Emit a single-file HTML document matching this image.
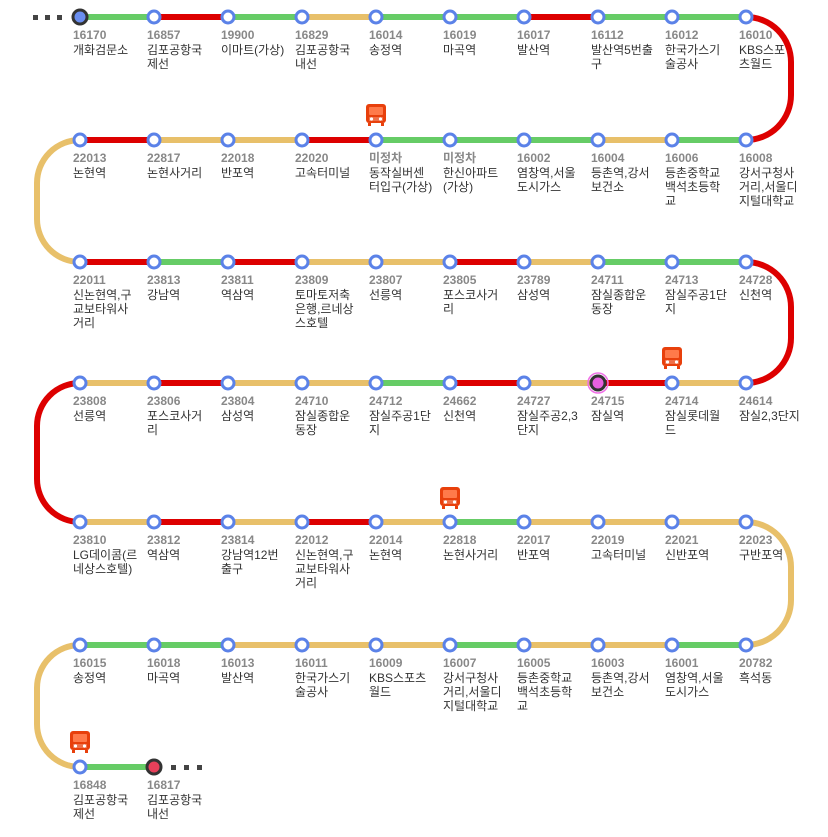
<!DOCTYPE html>
<html><head><meta charset="utf-8">
<style>
html,body{margin:0;padding:0;background:#fff;width:828px;height:837px;overflow:hidden}
svg{display:block}
.n{font:bold 12px "Liberation Sans","Noto Sans CJK KR",sans-serif;fill:#888}
.t{font:12px "Liberation Sans","Noto Sans CJK KR",sans-serif;fill:#333}
</style></head><body>
<svg width="828" height="837" viewBox="0 0 828 837" xmlns="http://www.w3.org/2000/svg">
<defs>
<g id="bus">
<rect x="-10" y="0" width="20" height="19" rx="3" fill="#e8400c"/>
<rect x="-7" y="3" width="14" height="8" rx="1" fill="#ff7a4a"/>
<rect x="-7" y="13" width="14" height="4" fill="#fff" opacity="0.25"/>
<circle cx="-4.5" cy="15" r="1.6" fill="#fff"/>
<circle cx="4.5" cy="15" r="1.6" fill="#fff"/>
<rect x="-8" y="19" width="3" height="3" fill="#e8400c"/>
<rect x="5" y="19" width="3" height="3" fill="#e8400c"/>
</g>
</defs>
<g fill="none" stroke-width="6">
<!-- row1 y17 -->
<path d="M80 17H154" stroke="#66cc66"/><path d="M154 17H228" stroke="#dd0000"/><path d="M228 17H302" stroke="#66cc66"/><path d="M302 17H376" stroke="#e8c06a"/><path d="M376 17H524" stroke="#66cc66"/><path d="M524 17H598" stroke="#dd0000"/><path d="M598 17H746" stroke="#66cc66"/>
<path d="M746 17A45 45 0 0 1 791 62V95A45 45 0 0 1 746 140" stroke="#dd0000"/>
<!-- row2 y140 -->
<path d="M80 140H154" stroke="#dd0000"/><path d="M154 140H302" stroke="#e8c06a"/><path d="M302 140H376" stroke="#dd0000"/><path d="M376 140H598" stroke="#66cc66"/><path d="M598 140H672" stroke="#e8c06a"/><path d="M672 140H746" stroke="#66cc66"/>
<path d="M80 140A43 43 0 0 0 37 183V219A43 43 0 0 0 80 262" stroke="#e8c06a"/>
<!-- row3 y262 -->
<path d="M80 262H154" stroke="#dd0000"/><path d="M154 262H228" stroke="#66cc66"/><path d="M228 262H302" stroke="#dd0000"/><path d="M302 262H450" stroke="#e8c06a"/><path d="M450 262H524" stroke="#dd0000"/><path d="M524 262H598" stroke="#e8c06a"/><path d="M598 262H746" stroke="#66cc66"/>
<path d="M746 262A45 45 0 0 1 791 307V338A45 45 0 0 1 746 383" stroke="#dd0000"/>
<!-- row4 y383 -->
<path d="M80 383H154" stroke="#e8c06a"/><path d="M154 383H228" stroke="#dd0000"/><path d="M228 383H376" stroke="#e8c06a"/><path d="M376 383H450" stroke="#66cc66"/><path d="M450 383H524" stroke="#dd0000"/><path d="M524 383H598" stroke="#e8c06a"/><path d="M598 383H672" stroke="#dd0000"/><path d="M672 383H746" stroke="#e8c06a"/>
<path d="M80 383A43 43 0 0 0 37 426V479A43 43 0 0 0 80 522" stroke="#dd0000"/>
<!-- row5 y522 -->
<path d="M80 522H154" stroke="#e8c06a"/><path d="M154 522H228" stroke="#dd0000"/><path d="M228 522H302" stroke="#e8c06a"/><path d="M302 522H376" stroke="#dd0000"/><path d="M376 522H450" stroke="#e8c06a"/><path d="M450 522H524" stroke="#66cc66"/><path d="M524 522H746" stroke="#e8c06a"/>
<path d="M746 522A45 45 0 0 1 791 567V600A45 45 0 0 1 746 645" stroke="#e8c06a"/>
<!-- row6 y645 -->
<path d="M80 645H228" stroke="#66cc66"/><path d="M228 645H450" stroke="#e8c06a"/><path d="M450 645H524" stroke="#66cc66"/><path d="M524 645H672" stroke="#e8c06a"/><path d="M672 645H746" stroke="#66cc66"/>
<path d="M80 645A43 43 0 0 0 37 688V724A43 43 0 0 0 80 767" stroke="#e8c06a"/>
<!-- row7 -->
<path d="M80 767H154" stroke="#66cc66"/>
</g>
<g fill="#444">
<rect x="33" y="15" width="5" height="5"/><rect x="45" y="15" width="5" height="5"/><rect x="57" y="15" width="5" height="5"/>
<rect x="171" y="765" width="5" height="5"/><rect x="184" y="765" width="5" height="5"/><rect x="197" y="765" width="5" height="5"/>
</g>
<g fill="#fff" stroke="#5b82e8" stroke-width="3">
<circle cx="154" cy="17" r="6"/><circle cx="228" cy="17" r="6"/><circle cx="302" cy="17" r="6"/><circle cx="376" cy="17" r="6"/><circle cx="450" cy="17" r="6"/><circle cx="524" cy="17" r="6"/><circle cx="598" cy="17" r="6"/><circle cx="672" cy="17" r="6"/><circle cx="746" cy="17" r="6"/>
<circle cx="80" cy="140" r="6"/><circle cx="154" cy="140" r="6"/><circle cx="228" cy="140" r="6"/><circle cx="302" cy="140" r="6"/><circle cx="376" cy="140" r="6"/><circle cx="450" cy="140" r="6"/><circle cx="524" cy="140" r="6"/><circle cx="598" cy="140" r="6"/><circle cx="672" cy="140" r="6"/><circle cx="746" cy="140" r="6"/>
<circle cx="80" cy="262" r="6"/><circle cx="154" cy="262" r="6"/><circle cx="228" cy="262" r="6"/><circle cx="302" cy="262" r="6"/><circle cx="376" cy="262" r="6"/><circle cx="450" cy="262" r="6"/><circle cx="524" cy="262" r="6"/><circle cx="598" cy="262" r="6"/><circle cx="672" cy="262" r="6"/><circle cx="746" cy="262" r="6"/>
<circle cx="80" cy="383" r="6"/><circle cx="154" cy="383" r="6"/><circle cx="228" cy="383" r="6"/><circle cx="302" cy="383" r="6"/><circle cx="376" cy="383" r="6"/><circle cx="450" cy="383" r="6"/><circle cx="524" cy="383" r="6"/><circle cx="672" cy="383" r="6"/><circle cx="746" cy="383" r="6"/>
<circle cx="80" cy="522" r="6"/><circle cx="154" cy="522" r="6"/><circle cx="228" cy="522" r="6"/><circle cx="302" cy="522" r="6"/><circle cx="376" cy="522" r="6"/><circle cx="450" cy="522" r="6"/><circle cx="524" cy="522" r="6"/><circle cx="598" cy="522" r="6"/><circle cx="672" cy="522" r="6"/><circle cx="746" cy="522" r="6"/>
<circle cx="80" cy="645" r="6"/><circle cx="154" cy="645" r="6"/><circle cx="228" cy="645" r="6"/><circle cx="302" cy="645" r="6"/><circle cx="376" cy="645" r="6"/><circle cx="450" cy="645" r="6"/><circle cx="524" cy="645" r="6"/><circle cx="598" cy="645" r="6"/><circle cx="672" cy="645" r="6"/><circle cx="746" cy="645" r="6"/>
<circle cx="80" cy="767" r="6"/>
</g>
<circle cx="80" cy="17" r="7" fill="#6a8ef0" stroke="#333" stroke-width="3"/>
<circle cx="154" cy="767" r="7" fill="#e8405a" stroke="#333" stroke-width="3"/>
<circle cx="598" cy="383" r="10" fill="none" stroke="#f070e8" stroke-width="1.5"/>
<circle cx="598" cy="383" r="7" fill="#e860e0" stroke="#333" stroke-width="3"/>
<use href="#bus" x="376" y="104"/><use href="#bus" x="672" y="347"/><use href="#bus" x="450" y="487"/><use href="#bus" x="80" y="731"/>

<!-- labels row1 -->
<g>
<text class="n" x="73" y="39">16170</text><text class="t" x="73" y="54">개화검문소</text>
<text class="n" x="147" y="39">16857</text><text class="t" x="147" y="54">김포공항국</text><text class="t" x="147" y="68">제선</text>
<text class="n" x="221" y="39">19900</text><text class="t" x="221" y="54">이마트(가상)</text>
<text class="n" x="295" y="39">16829</text><text class="t" x="295" y="54">김포공항국</text><text class="t" x="295" y="68">내선</text>
<text class="n" x="369" y="39">16014</text><text class="t" x="369" y="54">송정역</text>
<text class="n" x="443" y="39">16019</text><text class="t" x="443" y="54">마곡역</text>
<text class="n" x="517" y="39">16017</text><text class="t" x="517" y="54">발산역</text>
<text class="n" x="591" y="39">16112</text><text class="t" x="591" y="54">발산역5번출</text><text class="t" x="591" y="68">구</text>
<text class="n" x="665" y="39">16012</text><text class="t" x="665" y="54">한국가스기</text><text class="t" x="665" y="68">술공사</text>
<text class="n" x="739" y="39">16010</text><text class="t" x="739" y="54">KBS스포</text><text class="t" x="739" y="68">츠월드</text>
</g>
<g>
<text class="n" x="73" y="162">22013</text><text class="t" x="73" y="177">논현역</text>
<text class="n" x="147" y="162">22817</text><text class="t" x="147" y="177">논현사거리</text>
<text class="n" x="221" y="162">22018</text><text class="t" x="221" y="177">반포역</text>
<text class="n" x="295" y="162">22020</text><text class="t" x="295" y="177">고속터미널</text>
<text class="n" x="369" y="162">미정차</text><text class="t" x="369" y="177">동작실버센</text><text class="t" x="369" y="191">터입구(가상)</text>
<text class="n" x="443" y="162">미정차</text><text class="t" x="443" y="177">한신아파트</text><text class="t" x="443" y="191">(가상)</text>
<text class="n" x="517" y="162">16002</text><text class="t" x="517" y="177">염창역,서울</text><text class="t" x="517" y="191">도시가스</text>
<text class="n" x="591" y="162">16004</text><text class="t" x="591" y="177">등촌역,강서</text><text class="t" x="591" y="191">보건소</text>
<text class="n" x="665" y="162">16006</text><text class="t" x="665" y="177">등촌중학교</text><text class="t" x="665" y="191">백석초등학</text><text class="t" x="665" y="205">교</text>
<text class="n" x="739" y="162">16008</text><text class="t" x="739" y="177">강서구청사</text><text class="t" x="739" y="191">거리,서울디</text><text class="t" x="739" y="205">지털대학교</text>
</g>
<g>
<text class="n" x="73" y="284">22011</text><text class="t" x="73" y="299">신논현역,구</text><text class="t" x="73" y="313">교보타워사</text><text class="t" x="73" y="327">거리</text>
<text class="n" x="147" y="284">23813</text><text class="t" x="147" y="299">강남역</text>
<text class="n" x="221" y="284">23811</text><text class="t" x="221" y="299">역삼역</text>
<text class="n" x="295" y="284">23809</text><text class="t" x="295" y="299">토마토저축</text><text class="t" x="295" y="313">은행,르네상</text><text class="t" x="295" y="327">스호텔</text>
<text class="n" x="369" y="284">23807</text><text class="t" x="369" y="299">선릉역</text>
<text class="n" x="443" y="284">23805</text><text class="t" x="443" y="299">포스코사거</text><text class="t" x="443" y="313">리</text>
<text class="n" x="517" y="284">23789</text><text class="t" x="517" y="299">삼성역</text>
<text class="n" x="591" y="284">24711</text><text class="t" x="591" y="299">잠실종합운</text><text class="t" x="591" y="313">동장</text>
<text class="n" x="665" y="284">24713</text><text class="t" x="665" y="299">잠실주공1단</text><text class="t" x="665" y="313">지</text>
<text class="n" x="739" y="284">24728</text><text class="t" x="739" y="299">신천역</text>
</g>
<g>
<text class="n" x="73" y="405">23808</text><text class="t" x="73" y="420">선릉역</text>
<text class="n" x="147" y="405">23806</text><text class="t" x="147" y="420">포스코사거</text><text class="t" x="147" y="434">리</text>
<text class="n" x="221" y="405">23804</text><text class="t" x="221" y="420">삼성역</text>
<text class="n" x="295" y="405">24710</text><text class="t" x="295" y="420">잠실종합운</text><text class="t" x="295" y="434">동장</text>
<text class="n" x="369" y="405">24712</text><text class="t" x="369" y="420">잠실주공1단</text><text class="t" x="369" y="434">지</text>
<text class="n" x="443" y="405">24662</text><text class="t" x="443" y="420">신천역</text>
<text class="n" x="517" y="405">24727</text><text class="t" x="517" y="420">잠실주공2,3</text><text class="t" x="517" y="434">단지</text>
<text class="n" x="591" y="405">24715</text><text class="t" x="591" y="420">잠실역</text>
<text class="n" x="665" y="405">24714</text><text class="t" x="665" y="420">잠실롯데월</text><text class="t" x="665" y="434">드</text>
<text class="n" x="739" y="405">24614</text><text class="t" x="739" y="420">잠실2,3단지</text>
</g>
<g>
<text class="n" x="73" y="544">23810</text><text class="t" x="73" y="559">LG데이콤(르</text><text class="t" x="73" y="573">네상스호텔)</text>
<text class="n" x="147" y="544">23812</text><text class="t" x="147" y="559">역삼역</text>
<text class="n" x="221" y="544">23814</text><text class="t" x="221" y="559">강남역12번</text><text class="t" x="221" y="573">출구</text>
<text class="n" x="295" y="544">22012</text><text class="t" x="295" y="559">신논현역,구</text><text class="t" x="295" y="573">교보타워사</text><text class="t" x="295" y="587">거리</text>
<text class="n" x="369" y="544">22014</text><text class="t" x="369" y="559">논현역</text>
<text class="n" x="443" y="544">22818</text><text class="t" x="443" y="559">논현사거리</text>
<text class="n" x="517" y="544">22017</text><text class="t" x="517" y="559">반포역</text>
<text class="n" x="591" y="544">22019</text><text class="t" x="591" y="559">고속터미널</text>
<text class="n" x="665" y="544">22021</text><text class="t" x="665" y="559">신반포역</text>
<text class="n" x="739" y="544">22023</text><text class="t" x="739" y="559">구반포역</text>
</g>
<g>
<text class="n" x="73" y="667">16015</text><text class="t" x="73" y="682">송정역</text>
<text class="n" x="147" y="667">16018</text><text class="t" x="147" y="682">마곡역</text>
<text class="n" x="221" y="667">16013</text><text class="t" x="221" y="682">발산역</text>
<text class="n" x="295" y="667">16011</text><text class="t" x="295" y="682">한국가스기</text><text class="t" x="295" y="696">술공사</text>
<text class="n" x="369" y="667">16009</text><text class="t" x="369" y="682">KBS스포츠</text><text class="t" x="369" y="696">월드</text>
<text class="n" x="443" y="667">16007</text><text class="t" x="443" y="682">강서구청사</text><text class="t" x="443" y="696">거리,서울디</text><text class="t" x="443" y="710">지털대학교</text>
<text class="n" x="517" y="667">16005</text><text class="t" x="517" y="682">등촌중학교</text><text class="t" x="517" y="696">백석초등학</text><text class="t" x="517" y="710">교</text>
<text class="n" x="591" y="667">16003</text><text class="t" x="591" y="682">등촌역,강서</text><text class="t" x="591" y="696">보건소</text>
<text class="n" x="665" y="667">16001</text><text class="t" x="665" y="682">염창역,서울</text><text class="t" x="665" y="696">도시가스</text>
<text class="n" x="739" y="667">20782</text><text class="t" x="739" y="682">흑석동</text>
</g>
<g>
<text class="n" x="73" y="789">16848</text><text class="t" x="73" y="804">김포공항국</text><text class="t" x="73" y="818">제선</text>
<text class="n" x="147" y="789">16817</text><text class="t" x="147" y="804">김포공항국</text><text class="t" x="147" y="818">내선</text>
</g>
</svg>
</body></html>
